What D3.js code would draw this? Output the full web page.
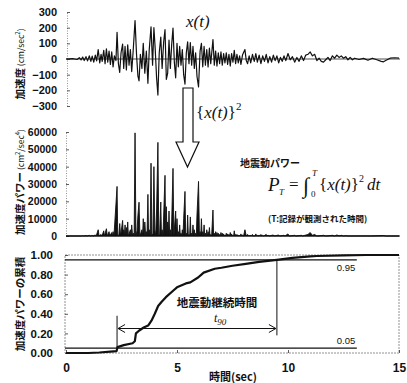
<!DOCTYPE html>
<html>
<head>
<meta charset="utf-8">
<script src="https://cdn.jsdelivr.net/npm/d3@7"></script>
<style>
  html, body { margin: 0; padding: 0; background: #fff; }
  svg { display: block; }
  .num text { font-family: "Liberation Sans", Arial, sans-serif; font-weight: bold; fill: #111; }
  .jp { font-family: "Noto Sans CJK JP", sans-serif; font-weight: bold; fill: #111; }
  .math { font-family: "Liberation Serif", "Times New Roman", serif; font-style: italic; fill: #111; }
</style>
</head>
<body>
<div id="chart"></div>
<script>
// tick labels
const timeTicks = [0, 5, 10, 15];
const accelTicks = [-300, -200, -100, 0, 100, 200, 300];
const powerTicks = [0, 10000, 20000, 30000, 40000, 50000, 60000];
const cumTicks = [0, 0.2, 0.4, 0.6, 0.8, 1.0];

// acceleration x(t) [sec, cm/sec^2]
const accel = [
  [0.00, 0], [0.30, 2], [0.50, -3], [0.60, 8], [0.68, -6], [0.75, 12], [0.82, -10], [0.90, 15],
  [0.97, -12], [1.05, 20], [1.12, -15], [1.18, 18], [1.25, -20], [1.32, 25], [1.38, -12], [1.45, 60],
  [1.52, -25], [1.58, 30], [1.63, -15], [1.70, 55], [1.76, -30], [1.82, 65], [1.88, -20], [1.94, 50],
  [2.00, -35], [2.06, 45], [2.12, -50], [2.18, 20], [2.25, -10], [2.30, 170], [2.36, -30], [2.42, -85],
  [2.48, 40], [2.55, 95], [2.60, -60], [2.66, 80], [2.72, -70], [2.78, 90], [2.84, -40], [2.90, 60],
  [2.96, -80], [3.02, 40], [3.11, 245], [3.18, 20], [3.24, -110], [3.29, -140], [3.35, 30], [3.42, -60],
  [3.48, 100], [3.55, -90], [3.62, 50], [3.69, -155], [3.75, 60], [3.83, 205], [3.90, -40], [3.96, 200],
  [4.02, 60], [4.08, -120], [4.14, -230], [4.20, 40], [4.27, 140], [4.33, -60], [4.40, 110], [4.46, 187],
  [4.52, -130], [4.58, -90], [4.64, 120], [4.70, -60], [4.76, 90], [4.82, 197], [4.88, -20], [4.94, -120],
  [5.00, 100], [5.06, -50], [5.12, 80], [5.18, -40], [5.24, 60], [5.30, -100], [5.36, -160], [5.42, 40],
  [5.48, 110], [5.54, -30], [5.60, 105], [5.66, -40], [5.72, 80], [5.78, -60], [5.84, 40], [5.90, -110],
  [5.97, -178], [6.04, 50], [6.10, 100], [6.16, -50], [6.22, 80], [6.28, -40], [6.34, 60], [6.40, -50],
  [6.46, 70], [6.52, -30], [6.62, 124], [6.68, -40], [6.74, 50], [6.80, -45], [6.86, 40], [6.92, -30],
  [6.98, 45], [7.04, -40], [7.10, 35], [7.16, -25], [7.22, 40], [7.28, -35], [7.34, 30], [7.40, -45],
  [7.46, 35], [7.52, -20], [7.58, 55], [7.64, -30], [7.70, 30], [7.76, -25], [7.82, 20], [7.88, -35],
  [7.95, 25], [8.06, 60], [8.12, -10], [8.18, -30], [8.25, 20], [8.32, -25], [8.40, 30], [8.48, -15],
  [8.55, 35], [8.62, -20], [8.70, 25], [8.78, -30], [8.86, 20], [8.94, -15], [9.02, 30], [9.10, -25],
  [9.18, 15], [9.26, -20], [9.34, 25], [9.42, -10], [9.50, 20], [9.58, -25], [9.66, 10], [9.74, -15],
  [9.82, 20], [9.90, -10], [10.0, 35], [10.1, -5], [10.2, 15], [10.3, -20], [10.4, 10], [10.5, -15],
  [10.6, 20], [10.7, -10], [10.8, 25], [10.9, 30], [11.0, 45], [11.1, 20], [11.2, 30], [11.3, -10],
  [11.4, 5], [11.5, -15], [11.6, -20], [11.7, -5], [11.8, 10], [11.9, -10], [12.0, 20], [12.1, 5],
  [12.2, 25], [12.3, 10], [12.4, 20], [12.5, 5], [12.6, 15], [12.7, -5], [12.8, 10], [12.9, -5],
  [13.0, 5], [13.2, -3], [13.4, 4], [13.6, -8], [13.8, 5], [14.0, -5], [14.2, -15], [14.3, -18],
  [14.4, -10], [14.6, 5], [14.8, 8], [15.0, 5]
];

// acceleration power {x(t)}^2 [sec, cm^2/sec^4]
const power = [
  [0, 0], [0.7, 0], [0.75, 150], [0.8, 0], [0.9, 230], [0.95, 0], [1.05, 400], [1.1, 0], [1.18, 330], [1.22, 0],
  [1.32, 600], [1.36, 0], [1.45, 3600], [1.49, 0], [1.58, 900], [1.62, 0], [1.70, 3000], [1.73, 0], [1.82, 4200],
  [1.86, 0], [1.94, 2500], [1.97, 0], [2.06, 2000], [2.09, 0], [2.12, 2500], [2.16, 0], [2.30, 28600], [2.33, 1000],
  [2.38, 0], [2.42, 7200], [2.46, 0], [2.55, 9000], [2.58, 0], [2.60, 3600], [2.63, 0], [2.66, 6400], [2.69, 0],
  [2.72, 4900], [2.75, 0], [2.78, 8100], [2.81, 0], [2.90, 3600], [2.93, 0], [2.96, 6400], [3.0, 0], [3.04, 1600],
  [3.07, 0], [3.11, 59500], [3.15, 0], [3.2, 3000], [3.24, 12000], [3.29, 19500], [3.33, 0], [3.42, 3600], [3.45, 0],
  [3.48, 10000], [3.52, 0], [3.55, 8100], [3.59, 0], [3.62, 2500], [3.65, 0], [3.69, 24000], [3.72, 0], [3.75, 3600],
  [3.79, 0], [3.83, 42000], [3.87, 0], [3.92, 1600], [3.96, 40000], [4.0, 3600], [4.04, 0], [4.08, 14400],
  [4.14, 54000], [4.18, 0], [4.22, 1600], [4.27, 19600], [4.30, 0], [4.33, 3600], [4.37, 0], [4.40, 12100],
  [4.46, 35000], [4.49, 0], [4.52, 16900], [4.55, 0], [4.58, 8100], [4.61, 0], [4.64, 14400], [4.67, 0], [4.70, 3600],
  [4.73, 0], [4.76, 8100], [4.82, 39000], [4.86, 0], [4.94, 14400], [4.97, 0], [5.0, 10000], [5.03, 0], [5.06, 2500],
  [5.09, 0], [5.12, 6400], [5.15, 0], [5.18, 1600], [5.21, 0], [5.24, 3600], [5.27, 0], [5.30, 10000], [5.36, 25700],
  [5.39, 0], [5.42, 1600], [5.45, 0], [5.48, 12100], [5.51, 0], [5.54, 900], [5.57, 0], [5.60, 11000], [5.63, 0],
  [5.66, 1600], [5.69, 0], [5.72, 6400], [5.75, 0], [5.78, 3600], [5.81, 0], [5.84, 1600], [5.87, 0], [5.90, 12100],
  [5.97, 31500], [6.01, 0], [6.04, 2500], [6.07, 0], [6.10, 10000], [6.13, 0], [6.16, 2500], [6.19, 0], [6.22, 6400],
  [6.25, 0], [6.28, 1600], [6.31, 0], [6.34, 3600], [6.37, 0], [6.40, 2500], [6.43, 0], [6.46, 4900], [6.49, 0],
  [6.52, 900], [6.56, 0], [6.62, 15000], [6.65, 0], [6.68, 1600], [6.71, 0], [6.74, 2500], [6.77, 0], [6.80, 2000],
  [6.83, 0], [6.86, 1600], [6.89, 0], [6.92, 900], [6.95, 0], [6.98, 2000], [7.01, 0], [7.04, 1600], [7.07, 0],
  [7.10, 1200], [7.13, 0], [7.16, 600], [7.19, 0], [7.22, 1600], [7.25, 0], [7.28, 1200], [7.31, 0], [7.34, 900],
  [7.37, 0], [7.40, 2000], [7.43, 0], [7.46, 1200], [7.49, 0], [7.52, 400], [7.55, 0], [7.58, 3000], [7.61, 0],
  [7.64, 900], [7.67, 0], [7.70, 900], [7.73, 0], [7.76, 600], [7.79, 0], [7.82, 400], [7.85, 0], [7.88, 1200],
  [7.91, 0], [7.95, 600], [8.0, 0], [8.06, 3600], [8.12, 0], [8.18, 900], [8.22, 0], [8.25, 400], [8.28, 0],
  [8.32, 600], [8.36, 0], [8.40, 900], [8.44, 0], [8.48, 200], [8.52, 0], [8.55, 1200], [8.59, 0], [8.62, 400],
  [8.66, 0], [8.70, 600], [8.74, 0], [8.78, 900], [8.82, 0], [8.86, 400], [8.9, 0], [9.02, 900], [9.06, 0],
  [9.10, 600], [9.14, 0], [9.34, 600], [9.38, 0], [9.58, 600], [9.62, 0], [9.82, 400], [9.86, 0], [10.0, 1200],
  [10.05, 0], [10.3, 400], [10.35, 0], [10.6, 400], [10.65, 0], [10.9, 900], [11.0, 2000], [11.1, 400], [11.2, 900],
  [11.3, 0], [11.6, 400], [11.7, 0], [12.0, 400], [12.1, 0], [12.2, 600], [12.3, 100], [12.4, 400], [12.5, 0],
  [12.6, 200], [12.7, 0], [13.6, 60], [13.7, 0], [14.3, 300], [14.4, 0], [15, 0]
];

// normalised cumulative power [sec, ratio]
const cumulative = [
  [0, 0], [1.0, 0.0], [1.5, 0.005], [2.0, 0.015], [2.28, 0.02], [2.32, 0.06], [2.6, 0.08], [3.0, 0.10],
  [3.1, 0.12], [3.15, 0.20], [3.3, 0.23], [3.5, 0.26], [3.7, 0.28], [3.85, 0.33], [4.0, 0.40], [4.15, 0.48],
  [4.3, 0.52], [4.5, 0.57], [4.85, 0.64], [5.0, 0.67], [5.4, 0.71], [5.6, 0.72], [5.95, 0.77], [6.1, 0.80],
  [6.2, 0.82], [6.7, 0.86], [7.0, 0.87], [7.5, 0.89], [8.1, 0.91], [8.7, 0.93], [9.5, 0.95], [10.2, 0.97],
  [11.0, 0.985], [11.3, 0.99], [12.5, 0.997], [13.5, 1.0], [15, 1.0]
];

const levels = [0.05, 0.95];
const levelLabels = ['0.05', '0.95'];
const tStart = 2.3;   // 5% time
const tEnd = 9.5;     // 95% time
const levelLineEnd = 13.1;

const W = 407, H = 383;
const svg = d3.select('#chart').append('svg')
  .attr('width', W).attr('height', H)
  .style('background', '#fff');

const x = d3.scaleLinear().domain([0, 15]).range([66, 399]);
const yA = d3.scaleLinear().domain([-300, 300]).range([106, 12]);
const yP = d3.scaleLinear().domain([0, 60000]).range([236, 132]);
const yC = d3.scaleLinear().domain([0, 1]).range([353, 255]);

function styleAxis(g, size) {
  g.selectAll('text').style('font-size', size + 'px');
  g.selectAll('.tick line').attr('stroke', '#333').attr('stroke-width', 0.8);
  g.select('.domain').attr('stroke', '#777').attr('stroke-width', 0.8).attr('stroke-dasharray', '1,1.5');
}

// ---- top panel: acceleration ----
const axA = svg.append('g').attr('class', 'num')
  .attr('transform', `translate(${x(0) + 1},0)`)
  .call(d3.axisLeft(yA).tickValues(accelTicks).tickSize(-3).tickSizeOuter(0).tickPadding(10)
    .tickFormat(d => d < 0 ? '\u2212' + Math.abs(d) : d));
styleAxis(axA, 11);

svg.append('line')
  .attr('x1', x(0)).attr('x2', x(15) + 1)
  .attr('y1', yA(0)).attr('y2', yA(0))
  .attr('stroke', '#222').attr('stroke-width', 0.8);

svg.append('path')
  .datum(accel)
  .attr('fill', 'none')
  .attr('stroke', '#111')
  .attr('stroke-width', 1.2)
  .attr('stroke-linejoin', 'round')
  .attr('d', d3.line().x(d => x(d[0])).y(d => yA(d[1])));

svg.append('text').attr('class', 'math')
  .attr('x', 186).attr('y', 27).style('font-size', '17px').text('x(t)');

// ---- arrow + {x(t)}^2 ----
svg.append('path')
  .attr('d', 'M183,88 L193,88 L193,142 L199,142 L187.5,167 L176,142 L183,142 Z')
  .attr('fill', '#fff').attr('stroke', '#111').attr('stroke-width', 1.2);

const sq = svg.append('text').attr('class', 'math')
  .attr('x', 196).attr('y', 118).style('font-size', '17px');
sq.append('tspan').style('font-style', 'normal').text('{');
sq.append('tspan').text('x(t)');
sq.append('tspan').style('font-style', 'normal').text('}');
sq.append('tspan').attr('dy', -8).style('font-size', '11px').style('font-style', 'normal').text('2');

// ---- middle panel: power ----
const axP = svg.append('g').attr('class', 'num')
  .attr('transform', `translate(${x(0)},0)`)
  .call(d3.axisLeft(yP).tickValues(powerTicks).tickSize(-3).tickSizeOuter(0).tickPadding(9)
    .tickFormat(d3.format('d')));
styleAxis(axP, 10.5);

svg.append('path')
  .datum(power)
  .attr('fill', '#111')
  .attr('stroke', '#111')
  .attr('stroke-width', 0.9)
  .attr('stroke-linejoin', 'round')
  .attr('d', d3.area().x(d => x(d[0])).y0(yP(0)).y1(d => yP(d[1])));

svg.append('line')
  .attr('x1', x(0)).attr('x2', x(15) + 1)
  .attr('y1', yP(0)).attr('y2', yP(0))
  .attr('stroke', '#111').attr('stroke-width', 1.2);

svg.append('text').attr('class', 'jp')
  .attr('x', 240).attr('y', 167).style('font-size', '10px').text('地震動パワー');

const fP = svg.append('g').attr('class', 'math');
fP.append('text').attr('x', 268).attr('y', 191).style('font-size', '19px').text('P');
fP.append('text').attr('x', 279).attr('y', 195).style('font-size', '9px').text('T');
fP.append('text').attr('x', 289).attr('y', 190).style('font-size', '17px').style('font-style', 'normal').text('=');
fP.append('text').attr('x', 303).attr('y', 193).style('font-size', '22px').style('font-style', 'normal').text('\u222B');
fP.append('text').attr('x', 311).attr('y', 197).style('font-size', '9px').style('font-style', 'normal').text('0');
fP.append('text').attr('x', 312).attr('y', 176).style('font-size', '9px').text('T');
const fx = fP.append('text').attr('x', 319).attr('y', 190).style('font-size', '17px');
fx.append('tspan').style('font-style', 'normal').text('{');
fx.append('tspan').text('x(t)');
fx.append('tspan').style('font-style', 'normal').text('}');
fx.append('tspan').attr('dy', -8).style('font-size', '10px').style('font-style', 'normal').text('2');
fx.append('tspan').attr('dy', 8).attr('dx', 3).text('dt');

svg.append('text').attr('class', 'jp')
  .attr('x', 268).attr('y', 222).style('font-size', '8.5px').text('(T:記録が観測された時間)');

// ---- bottom panel: cumulative power ----
svg.append('rect')
  .attr('x', x(0) - 1).attr('y', yC(1))
  .attr('width', x(15) - x(0) + 1).attr('height', yC(0) - yC(1))
  .attr('fill', 'none').attr('stroke', '#777').attr('stroke-width', 0.8).attr('stroke-dasharray', '2,1');

const axC = svg.append('g').attr('class', 'num')
  .attr('transform', `translate(${x(0) - 1},0)`)
  .call(d3.axisLeft(yC).tickValues(cumTicks).tickSize(-3).tickSizeOuter(0).tickPadding(12)
    .tickFormat(d3.format('.2f')));
styleAxis(axC, 11.5);
axC.select('.domain').remove();

const axT = svg.append('g').attr('class', 'num')
  .attr('transform', `translate(0,${yC(0)})`)
  .call(d3.axisBottom(x).tickValues(timeTicks).tickSize(-3).tickSizeOuter(0).tickPadding(10));
styleAxis(axT, 12);
axT.select('.domain').remove();

svg.append('text').attr('class', 'jp')
  .attr('x', 233).attr('y', 381).attr('text-anchor', 'middle').style('font-size', '11px')
  .text('時間(sec)');

svg.selectAll('.level')
  .data(levels)
  .join('line')
  .attr('class', 'level')
  .attr('x1', x(0) - 1).attr('x2', x(levelLineEnd))
  .attr('y1', d => yC(d)).attr('y2', d => yC(d))
  .attr('stroke', '#111').attr('stroke-width', 1.3);

svg.selectAll('.levelLabel')
  .data(levels)
  .join('text')
  .attr('class', 'levelLabel')
  .attr('x', x(12.2))
  .attr('y', d => d > 0.5 ? yC(d) + 11 : yC(d) - 4)
  .style('font-family', '"Liberation Sans", Arial, sans-serif')
  .style('font-size', '9.5px')
  .attr('fill', '#111')
  .text((d, i) => levelLabels[i]);

svg.append('path')
  .datum(cumulative)
  .attr('fill', 'none')
  .attr('stroke', '#111')
  .attr('stroke-width', 2.2)
  .attr('stroke-linejoin', 'round')
  .attr('d', d3.line().x(d => x(d[0])).y(d => yC(d[1])));

// duration markers
svg.append('line')
  .attr('x1', x(tStart)).attr('x2', x(tStart))
  .attr('y1', yC(0.05)).attr('y2', yC(0.38))
  .attr('stroke', '#111').attr('stroke-width', 1);
svg.append('line')
  .attr('x1', x(tEnd)).attr('x2', x(tEnd))
  .attr('y1', yC(0.95)).attr('y2', yC(0.18))
  .attr('stroke', '#111').attr('stroke-width', 1);

const ay = yC(0.25);
svg.append('line')
  .attr('x1', x(tStart) + 1).attr('x2', x(tEnd) - 1)
  .attr('y1', ay).attr('y2', ay)
  .attr('stroke', '#111').attr('stroke-width', 1);
svg.append('path')
  .attr('d', `M${x(tStart) + 8},${ay - 4} L${x(tStart) + 1},${ay} L${x(tStart) + 8},${ay + 4}` +
             `M${x(tEnd) - 8},${ay - 4} L${x(tEnd) - 1},${ay} L${x(tEnd) - 8},${ay + 4}`)
  .attr('fill', 'none').attr('stroke', '#111').attr('stroke-width', 1);

svg.append('text').attr('class', 'jp')
  .attr('x', 217).attr('y', 307).attr('text-anchor', 'middle').style('font-size', '11.5px')
  .text('地震動継続時間');

const t90 = svg.append('text').attr('class', 'math')
  .attr('x', 214).attr('y', 322).style('font-size', '12px');
t90.append('tspan').text('t');
t90.append('tspan').attr('dy', 3).style('font-size', '9px').text('90');

// ---- rotated y labels ----
function yLabel(cy, bold, unit, sups) {
  const t = svg.append('text')
    .attr('transform', `translate(24,${cy}) rotate(-90)`)
    .attr('text-anchor', 'middle')
    .style('font-family', '"Noto Sans CJK JP", sans-serif')
    .attr('fill', '#111');
  t.append('tspan').style('font-weight', 'bold').style('font-size', '10.5px').text(bold);
  if (unit) {
    t.append('tspan').style('font-size', '8.5px').text(' (' + unit[0]);
    t.append('tspan').attr('dy', -4).style('font-size', '6px').text(sups[0]);
    t.append('tspan').attr('dy', 4).style('font-size', '8.5px').text(unit[1]);
    t.append('tspan').attr('dy', -4).style('font-size', '6px').text(sups[1]);
    t.append('tspan').attr('dy', 4).style('font-size', '8.5px').text(')');
  }
}
yLabel(64, '加速度', ['cm/sec', ''], ['2', '']);
yLabel(182, '加速度パワー', ['cm', '/sec'], ['2', '4']);
yLabel(304, '加速度パワーの累積', null, null);
</script>
</body>
</html>
